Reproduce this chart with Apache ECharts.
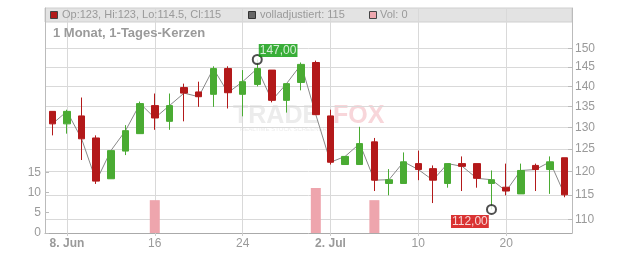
<!DOCTYPE html>
<html>
<head>
<meta charset="utf-8">
<script src="https://cdn.jsdelivr.net/npm/echarts@6/dist/echarts.min.js"></script>
<style>
  html, body { margin: 0; padding: 0; background: #fff; }
  #chart { width: 632px; height: 253px; }
</style>
</head>
<body>
<div id="chart"></div>
<script>
// Handelstage 5. Jun - 24. Jul 2020
const dates = [
  '06-05', '06-08', '06-09', '06-10', '06-11', '06-12', '06-15', '06-16', '06-17', '06-18',
  '06-19', '06-22', '06-23', '06-24', '06-25', '06-26', '06-29', '06-30', '07-01', '07-02',
  '07-03', '07-06', '07-07', '07-08', '07-09', '07-10', '07-13', '07-14', '07-15', '07-16',
  '07-17', '07-20', '07-21', '07-22', '07-23', '07-24'
]
// beschriftete Tage auf der x-Achse
const tickLabels = {
  '06-08': '8. Jun', '06-16': '16', '06-24': '24',
  '07-02': '2. Jul', '07-10': '10', '07-20': '20'
}
const opens = [
  133.8, 130.8, 132.7, 127.5, 118.4, 124.5, 128.5, 135.2, 131.4, 139.7,
  138.6, 138.0, 144.6, 138.0, 140.5, 144.2, 136.5, 141.0, 146.2, 132.7,
  121.5, 121.5, 126.6, 117.4, 117.4, 121.7, 120.6, 117.4, 121.7, 121.7,
  117.4, 116.6, 115.2, 121.3, 120.4, 123.0
]
const closes = [
  130.8, 133.8, 127.3, 117.9, 124.6, 129.2, 135.7, 132.2, 135.2, 138.3,
  137.4, 144.6, 138.4, 141.2, 144.6, 136.5, 140.7, 145.7, 133.0, 122.0,
  123.3, 126.2, 118.1, 118.2, 122.1, 120.4, 118.1, 121.7, 121.1, 118.5,
  118.2, 115.8, 120.2, 120.4, 122.1, 115.0
]
const lows = [
  128.1, 128.5, 122.5, 117.3, 118.4, 123.6, 128.5, 129.4, 129.4, 131.4,
  134.9, 134.9, 134.5, 132.6, 140.0, 136.0, 133.5, 139.0, 133.0, 121.5,
  121.5, 121.5, 115.8, 114.9, 117.4, 118.1, 113.3, 116.5, 115.8, 116.5,
  112.0, 114.9, 115.2, 115.8, 115.2, 114.5
]
const highs = [
  133.8, 134.2, 137.2, 128.1, 124.6, 130.5, 136.2, 138.2, 138.2, 140.7,
  141.2, 145.2, 145.2, 144.2, 147.0, 144.2, 140.7, 146.2, 146.7, 134.2,
  123.3, 130.1, 127.5, 120.5, 124.2, 124.6, 121.3, 121.7, 123.3, 121.7,
  120.2, 121.7, 121.7, 121.7, 123.3, 123.0
]
const volumes = [
  0, 0, 0, 0, 0, 0, 0, 8.1, 0, 0,
  0, 0, 0, 0, 0, 0, 0, 0, 11.1, 0,
  0, 0, 8.1, 0, 0, 0, 0, 0, 0, 0,
  0, 0, 0, 0, 0, 0
]
const priceTicks = [110, 115, 120, 125, 130, 135, 140, 145, 150]
const volumeTicks = [0, 5, 10, 15]
// Hoch / Tief im Zeitraum
const extremes = [
  { day: '06-25', value: 147.0, color: '#079a07', pos: [7, -10] },
  { day: '07-17', value: 112.0, color: '#d10000', pos: [-35, 11] }
]

const font = '"Liberation Sans", Arial, sans-serif'
const gray = '#9a9a9a'

const candleData = dates.map((d, i) => [opens[i], closes[i], lows[i], highs[i]])
const isLabelDay = (i) => tickLabels[dates[i]] !== undefined

const chart = echarts.init(document.getElementById('chart'), null, { renderer: 'canvas' })
chart.setOption({
  animation: false,
  textStyle: { fontFamily: font },
  grid: { left: 45, right: 60, top: 8, bottom: 20 },
  xAxis: {
    type: 'category',
    data: dates,
    boundaryGap: true,
    axisLine: { lineStyle: { color: '#aaa' } },
    axisTick: { show: true, alignWithLabel: true, interval: isLabelDay, length: 3, lineStyle: { color: '#ccc' } },
    axisLabel: {
      interval: isLabelDay,
      color: gray,
      fontSize: 12,
      margin: 5,
      formatter: (v) => {
        const t = tickLabels[v] || ''
        return t.indexOf('.') > 0 ? '{b|' + t + '}' : t
      },
      rich: { b: { fontWeight: 'bold', color: gray, fontSize: 12, fontFamily: font } }
    },
    splitLine: { show: true, alignWithLabel: true, interval: isLabelDay, lineStyle: { color: '#d9d9d9' } }
  },
  yAxis: [
    {
      type: 'log',
      position: 'right',
      min: 107.31,
      max: 161.39,
      axisLine: { show: true, lineStyle: { color: '#bbb' } },
      axisTick: { show: true, inside: true, length: 4, customValues: priceTicks, lineStyle: { color: '#bbb' } },
      axisLabel: { customValues: priceTicks, color: gray, fontSize: 12, margin: 3 },
      splitLine: { show: true, lineStyle: { color: '#d9d9d9' } }
    },
    {
      type: 'value',
      position: 'left',
      min: 0,
      max: 55.5,
      axisLine: { show: true, lineStyle: { color: '#bbb' } },
      axisTick: { show: true, inside: true, length: 4, customValues: volumeTicks, lineStyle: { color: '#bbb' } },
      axisLabel: { customValues: volumeTicks, color: gray, fontSize: 12, margin: 4 },
      splitLine: { show: false }
    }
  ],
  graphic: [
    // Kopfzeile
    { type: 'rect', z: -1, shape: { x: 45, y: 8, width: 527, height: 14 }, style: { fill: '#e3e3e3', stroke: '#cfcfcf', lineWidth: 1 } },
    { type: 'rect', z: 5, shape: { x: 50.5, y: 11.5, width: 7, height: 7 }, style: { fill: '#b31b1b', stroke: '#444', lineWidth: 1 } },
    { type: 'text', z: 5, x: 62, y: 15, style: { text: 'Op:123, Hi:123, Lo:114.5, Cl:115', fill: gray, font: '11px ' + font, verticalAlign: 'middle' } },
    { type: 'rect', z: 5, shape: { x: 248.5, y: 11.5, width: 7, height: 7 }, style: { fill: '#666', stroke: '#333', lineWidth: 1 } },
    { type: 'text', z: 5, x: 260, y: 15, style: { text: 'volladjustiert: 115', fill: gray, font: '11px ' + font, verticalAlign: 'middle' } },
    { type: 'rect', z: 5, shape: { x: 369.5, y: 11.5, width: 7, height: 7 }, style: { fill: '#eea7ae', stroke: '#444', lineWidth: 1 } },
    { type: 'text', z: 5, x: 380, y: 15, style: { text: 'Vol: 0', fill: gray, font: '11px ' + font, verticalAlign: 'middle' } },
    { type: 'text', z: 5, x: 53, y: 33, style: { text: '1 Monat, 1-Tages-Kerzen', fill: gray, font: 'bold 13px ' + font, verticalAlign: 'middle' } },
    // Wasserzeichen
    { type: 'text', z: -1, x: 233, y: 116, style: { text: 'TRADE', fill: '#ececec', font: 'bold 25px ' + font, verticalAlign: 'middle' } },
    { type: 'text', z: -1, x: 333, y: 116, style: { text: 'FOX', fill: '#f8d6da', font: 'bold 25px ' + font, verticalAlign: 'middle' } },
    { type: 'text', z: -1, x: 240, y: 129, style: { text: 'REALTIME STOCK SCREENER', fill: '#ececec', font: '6px ' + font, verticalAlign: 'middle' } }
  ],
  series: [
    {
      name: 'Vol',
      type: 'bar',
      yAxisIndex: 1,
      data: volumes,
      barWidth: 10,
      itemStyle: { color: '#eea5ad' },
      z: 1
    },
    {
      name: 'volladjustiert',
      type: 'line',
      yAxisIndex: 0,
      data: closes,
      symbol: 'none',
      lineStyle: { color: '#888', width: 1 },
      z: 2
    },
    {
      name: 'Kerzen',
      type: 'candlestick',
      yAxisIndex: 0,
      data: candleData,
      barWidth: 7,
      itemStyle: {
        color: '#4aab33',
        color0: '#b3191a',
        borderColor: '#4aab33',
        borderColor0: '#b3191a',
        borderWidth: 1
      },
      z: 3
    },
    {
      name: 'Extreme',
      type: 'scatter',
      yAxisIndex: 0,
      symbol: 'emptyCircle',
      symbolSize: 9,
      itemStyle: { color: '#222', borderWidth: 1 },
      z: 4,
      data: extremes.map((e) => ({
        value: [e.day, e.value],
        label: {
          show: true,
          position: e.pos,
          formatter: e.value.toFixed(2).replace('.', ','),
          color: '#fff',
          fontSize: 12,
          fontFamily: font,
          lineHeight: 13,
          backgroundColor: e.color,
          padding: [0, 1]
        }
      }))
    }
  ]
})
</script>
</body>
</html>
